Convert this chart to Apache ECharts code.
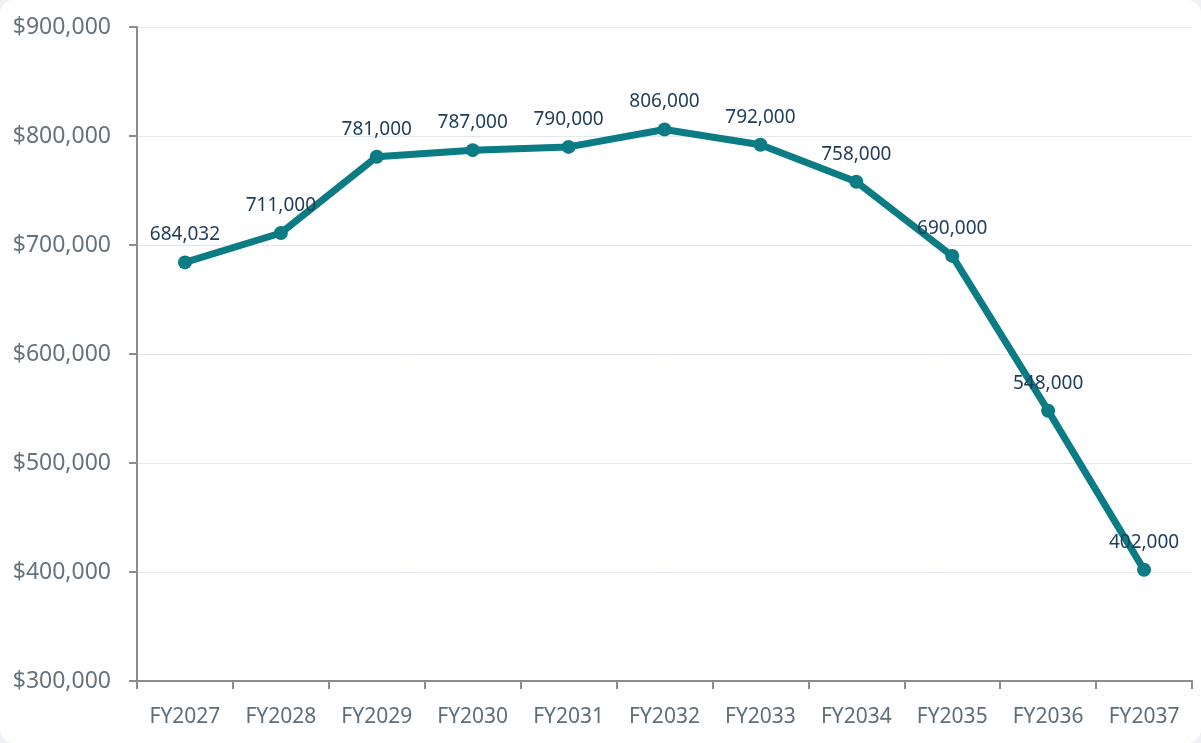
<!DOCTYPE html>
<html>
<head>
<meta charset="utf-8">
<script src="https://cdn.jsdelivr.net/npm/echarts@6/dist/echarts.min.js"></script>
<style>
html,body{margin:0;padding:0;background:#eef0f3;}
#c{position:absolute;left:0;top:0;width:1201px;height:743px;background:#fff;border-radius:14px;}
</style>
</head>
<body>
<div id="c"></div>
<script>
const categories = ['FY2027','FY2028','FY2029','FY2030','FY2031','FY2032','FY2033','FY2034','FY2035','FY2036','FY2037'];
const values = [684032, 711000, 781000, 787000, 790000, 806000, 792000, 758000, 690000, 548000, 402000];
const yMin = 300000, yMax = 900000, yStep = 100000;

const chart = echarts.init(document.getElementById('c'));
chart.setOption({
  animation: false,
  grid: {left: 137, right: 9, top: 27, bottom: 62},
  xAxis: {
    type: 'category',
    data: categories,
    boundaryGap: true,
    axisLine: {lineStyle: {color: '#8c8c8c', width: 2}},
    axisTick: {show: true, length: 8, lineStyle: {color: '#8c8c8c', width: 2}},
    axisLabel: {color: '#5f6e7b', fontSize: 21, fontFamily: 'Noto Sans', margin: 26}
  },
  yAxis: {
    type: 'value',
    min: yMin, max: yMax, interval: yStep,
    axisLine: {show: true, lineStyle: {color: '#8c8c8c', width: 2}},
    axisTick: {show: true, length: 8, lineStyle: {color: '#8c8c8c', width: 2}},
    splitLine: {lineStyle: {color: '#e3e8ef', width: 1}},
    axisLabel: {
      color: '#65737f', fontSize: 23, fontFamily: 'Noto Sans', margin: 26,
      formatter: v => '$' + v.toLocaleString('en-US')
    }
  },
  series: [{
    type: 'line',
    data: values,
    symbol: 'circle',
    symbolSize: 14,
    lineStyle: {color: '#0b7b84', width: 7},
    itemStyle: {color: '#0b7b84'},
    label: {
      show: true, position: 'top', distance: 11,
      color: '#1d3c5a', fontSize: 19, fontFamily: 'Noto Sans',
      formatter: p => p.value.toLocaleString('en-US')
    }
  }]
});
</script>
</body>
</html>
